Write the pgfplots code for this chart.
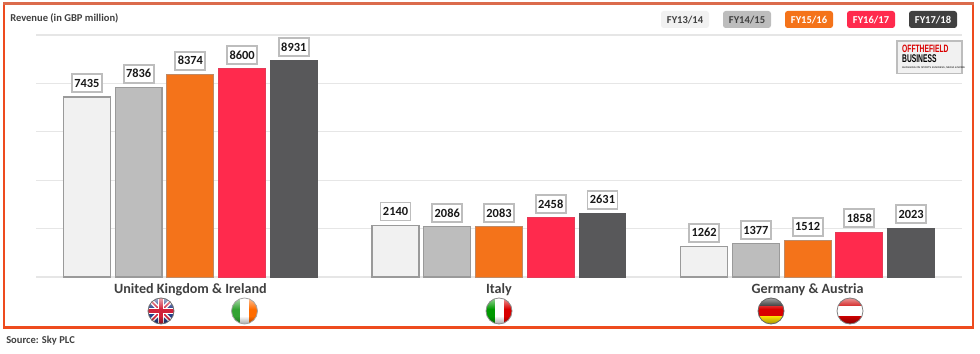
\documentclass[border=0pt]{standalone}
\usepackage{fontspec}
\setmainfont{Carlito}
\newfontfamily\logofont{Liberation Sans}
\usepackage{pgfplots}
\pgfplotsset{compat=1.18}
\usetikzlibrary{calc,fadings}
\definecolor{cA}{HTML}{F1F1F1}
\definecolor{cB}{HTML}{BDBDBD}
\definecolor{cC}{HTML}{F4731A}
\definecolor{cD}{HTML}{FF2A4D}
\definecolor{cE}{HTML}{58585A}
\definecolor{cEchip}{HTML}{404040}
\definecolor{frameC}{HTML}{EE4B1E}
\definecolor{frameT}{HTML}{DB6B4C}
\definecolor{txt}{HTML}{404040}
\definecolor{gridC}{HTML}{E6E6E6}
\definecolor{boxC}{HTML}{BDBDBD}
\definecolor{edgeC}{HTML}{9A9A9A}
\definecolor{ukblue}{HTML}{27408B}
\definecolor{ukred}{HTML}{D0213A}
% glossy overlay of a round flag: centre x, centre y, ring colour
\newcommand{\gloss}[3]{%
  \begin{scope}
   \clip (#1,#2) circle[radius=13];
   \fill[white,opacity=.6,path fading=south] (#1-12,#2-13) rectangle (#1+12,#2-2);
   \fill[black,opacity=.35,path fading=north] (#1-13,#2+5) rectangle (#1+13,#2+13);
  \end{scope}
  \draw[#3,line width=.6pt] (#1,#2) circle[radius=13];}
\begin{document}
\begin{tikzpicture}
\path[use as bounding box] (0,0) rectangle (735pt,264.75pt);
\begin{axis}[
  at={(27pt,57pt)}, anchor=south west,
  scale only axis, width=694.5pt, height=181.5pt,
  xmin=-0.5, xmax=2.5, ymin=0, ymax=10000,
  ytick={0,2000,4000,6000,8000,10000},
  yticklabels={}, ymajorgrids, scaled y ticks=false,
  grid style={draw=gridC,line width=.9pt},
  xtick={0,1,2},
  xticklabels={United Kingdom \& Ireland,Italy,Germany \& Austria},
  x tick label style={font=\bfseries\fontsize{10.6pt}{12pt}\selectfont,text=txt,yshift=-1.2pt},
  major tick length=0pt,
  axis line style={draw=none},
  ybar=3.6pt, bar width=35.2pt,
  /pgf/number format/assume math mode=true,
  /pgf/number format/1000 sep={},
  nodes near coords,
  every node near coord/.append style={
    font=\bfseries\fontsize{9.3pt}{11pt}\selectfont,text=black!90,
    draw=boxC,line width=1.4pt,fill=white,inner sep=0pt,
    minimum width=22.5pt,minimum height=13.5pt,anchor=south,yshift=2.8pt},
  clip=false,
]
\addplot[fill=cA,draw=edgeC,line width=.9pt] coordinates {(0,7435) (1,2140) (2,1262)};
\addplot[fill=cB,draw=edgeC,line width=.9pt] coordinates {(0,7836) (1,2086) (2,1377)};
\addplot[fill=cC,draw=edgeC!60!cC,line width=.7pt] coordinates {(0,8374) (1,2083) (2,1512)};
\addplot[fill=cD,draw=cD!80!gray,line width=.7pt] coordinates {(0,8600) (1,2458) (2,1858)};
\addplot[fill=cE,draw=cE,line width=.7pt] coordinates {(0,8931) (1,2631) (2,2023)};
\end{axis}
\begin{scope}[x=.75pt,y=-.75pt,shift={(0,264.75pt)}]
 % frame
 \draw[frameC,line width=1.7pt] (4,3.5) -- (4,327.5) -- (973,327.5) -- (973,3.5);
 \draw[frameT,line width=1.7pt] (3.4,3.5) -- (973.6,3.5);
 % titles
 \node[anchor=west,font=\bfseries\fontsize{7.9pt}{9pt}\selectfont,text=txt,inner sep=0] at (10,18) {Revenue (in GBP million)};
 \node[anchor=west,font=\bfseries\fontsize{7.9pt}{9pt}\selectfont,text=txt,inner sep=0] at (6,340.5) {Source: Sky PLC};
 % legend chips
 \foreach \x/\f/\tc/\lab in {661/cA/txt/FY13\slash 14,723/cB/txt/FY14\slash 15,785/cC/white/FY15\slash 16,847/cD/white/FY16\slash 17,909/cEchip/white/FY17\slash 18}{
   \fill[\f,rounded corners=2pt] (\x,11) rectangle ++(48,17);
   \node[font=\bfseries\fontsize{7.9pt}{9pt}\selectfont,text=\tc,inner sep=0] at (\x+24,19.6) {\lab};
 }
 % logo
 \draw[boxC,fill=cA,line width=1.1pt] (897,41) rectangle (962,73.5);
 \node[anchor=west,inner sep=0,text=red!85!black,font=\logofont\bfseries\fontsize{8pt}{9pt}\selectfont,xscale=.63] at (902,48.5) {OFFTHEFIELD};
 \node[anchor=west,inner sep=0,text=black,font=\logofont\bfseries\fontsize{8.4pt}{9pt}\selectfont,xscale=.6] at (902,59) {BUSINESS};
 \node[anchor=west,inner sep=0,text=black,font=\logofont\fontsize{1.9pt}{3pt}\selectfont] at (902,67.5) {BLOGGING ON SPORTS BUSINESS, MEDIA \& MORE};
 % flags
 \begin{scope}
  \clip (161,311) circle[radius=13];
  \fill[ukblue] (148,298) rectangle (174,324);
  \draw[white,line width=3.2pt] (148,298) -- (174,324) (148,324) -- (174,298);
  \draw[ukred,line width=1.1pt] (148,298) -- (174,324) (148,324) -- (174,298);
  \draw[white,line width=5pt] (161,298) -- (161,324) (148,311) -- (174,311);
  \draw[ukred,line width=2.8pt] (161,298) -- (161,324) (148,311) -- (174,311);
 \end{scope}
 \gloss{161}{311}{black!55}
 \begin{scope}
  \clip (244.5,311) circle[radius=13];
  \fill[white] (231,298) rectangle (258,324);
  \fill[green!55!black!80!white] (231,298) rectangle (240,324);
  \fill[orange!85!red] (249,298) rectangle (258,324);
 \end{scope}
 \gloss{244.5}{311}{black!35}
 \begin{scope}
  \clip (499,311) circle[radius=13];
  \fill[white] (486,298) rectangle (512,324);
  \fill[green!60!black] (486,298) rectangle (495,324);
  \fill[red!85!black] (503.5,298) rectangle (512,324);
 \end{scope}
 \gloss{499}{311}{black!45}
 \begin{scope}
  \clip (771,311) circle[radius=13];
  \fill[black!90] (758,298) rectangle (784,306.5);
  \fill[red!85!black] (758,306.5) rectangle (784,315.5);
  \fill[yellow!85!orange] (758,315.5) rectangle (784,324);
 \end{scope}
 \gloss{771}{311}{black!60}
 \begin{scope}
  \clip (850,311) circle[radius=13];
  \fill[white] (837,298) rectangle (863,324);
  \fill[red!80!black] (837,298) rectangle (863,306);
  \fill[red!80!black] (837,316) rectangle (863,324);
 \end{scope}
 \gloss{850}{311}{black!50}
\end{scope}
\end{tikzpicture}
\end{document}
